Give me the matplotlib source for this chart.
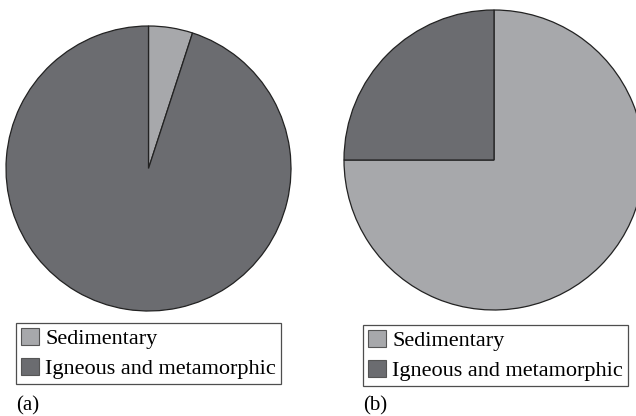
import matplotlib
matplotlib.use("Agg")
import matplotlib.pyplot as plt
from matplotlib.patches import Patch

categories = ["Sedimentary", "Igneous and metamorphic"]
values_a = [5, 95]
values_b = [75, 25]
panel_labels = ["(a)", "(b)"]
colors = ["#a7a8ab", "#6b6c70"]

W, H = 636, 416
fig = plt.figure(figsize=(W / 100, H / 100), dpi=100)
plt.rcParams['font.family'] = ['Liberation Serif', 'DejaVu Serif']


def add_pie(cx, cy, r, values):
    # cx, cy, r in pixels, cy measured from top
    ax = fig.add_axes([(cx - r) / W, (H - cy - r) / H, 2 * r / W, 2 * r / H])
    ax.pie(values, colors=colors, startangle=90, counterclock=False, radius=1,
           wedgeprops=dict(edgecolor="#222222", linewidth=0.9))
    ax.set_xlim(-1, 1)
    ax.set_ylim(-1, 1)
    ax.set_aspect('auto')
    ax.axis('off')
    return ax


add_pie(148.5, 168.5, 142.5, values_a)
add_pie(494, 160, 150, values_b)

handles = [Patch(facecolor=c, edgecolor="#555555", linewidth=0.8) for c in colors]
for x0, y0 in [(16, 323), (363, 325)]:
    leg = fig.legend(handles, categories, loc='upper left',
                     bbox_to_anchor=(x0 / W, 1 - y0 / H),
                     frameon=True, fancybox=False, shadow=False,
                     fontsize=16, handlelength=0.8, handleheight=0.8,
                     handletextpad=0.3, labelspacing=0.4, borderpad=0.22,
                     borderaxespad=0, edgecolor="#222222")
    leg.get_frame().set_linewidth(0.9)

for lab, x0 in zip(panel_labels, [16, 363]):
    fig.text(x0 / W, 1 - 406 / H, lab, fontsize=15, va='center', ha='left')

fig.savefig("out.png", dpi=100)
